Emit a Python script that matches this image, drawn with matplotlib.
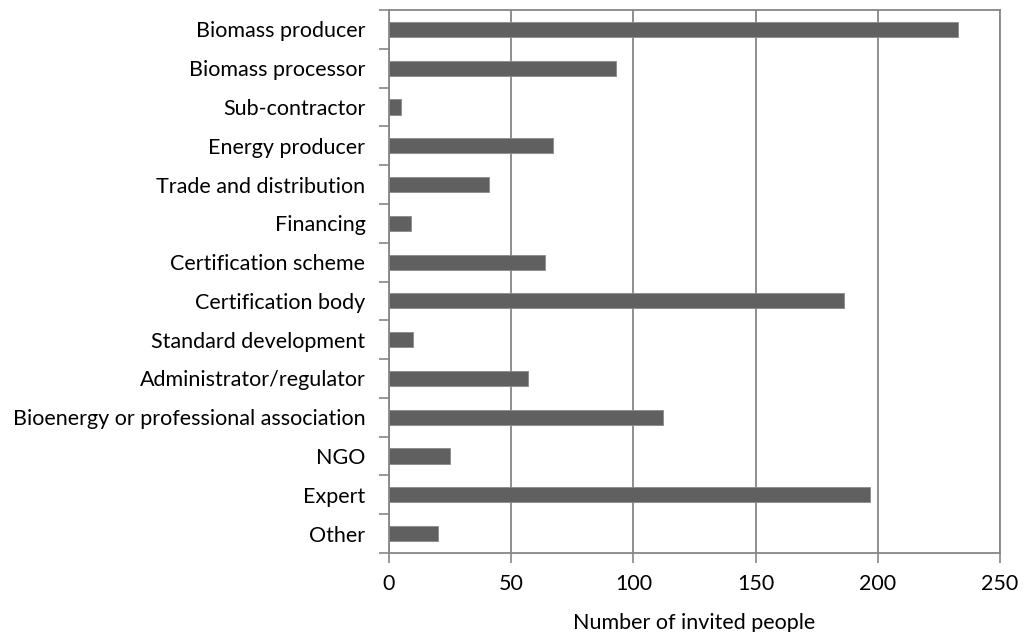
import numpy as np
import matplotlib.pyplot as plt

categories = ['Biomass producer', 'Biomass processor', 'Sub-contractor', 'Energy producer',
              'Trade and distribution', 'Financing', 'Certification scheme', 'Certification body',
              'Standard development', 'Administrator/regulator',
              'Bioenergy or professional association', 'NGO', 'Expert', 'Other']
invited = [233, 93, 5, 67, 41, 9, 64, 186, 10, 57, 112, 25, 197, 20]
xticks = [0, 50, 100, 150, 200, 250]

plt.rcParams['font.family'] = ['Lato', 'DejaVu Sans']
grid_col = '#868686'

fig = plt.figure(figsize=(10.25, 6.32), dpi=100)
ax = fig.add_axes([389/1025, 1-553/632, (1000-389)/1025, (553-10)/632])

y = np.arange(len(categories))
ax.barh(y, invited, height=0.39, color='#606060', edgecolor='#8a8a8a', linewidth=0.6, zorder=3)

ax.set_xlim(0, 250)
ax.set_ylim(len(categories)-0.5, -0.5)
ax.set_xticks(xticks)
ax.set_xticklabels([str(v) for v in xticks], fontsize=15.5)
ax.set_yticks(y)
ax.set_yticklabels(categories, fontsize=15.5)
ax.tick_params(axis='y', length=0, pad=17)
ax.set_yticks(np.arange(-0.5, len(categories), 1), minor=True)
ax.tick_params(axis='y', which='minor', length=7, color=grid_col, width=1.2)
ax.tick_params(axis='x', length=7, color=grid_col, width=1.2, pad=8)
ax.xaxis.grid(True, color=grid_col, linewidth=1.3, zorder=0)
for s in ax.spines.values():
    s.set_color(grid_col)
    s.set_linewidth(1.3)
ax.set_xlabel('Number of invited people', fontsize=15.5, labelpad=14)

fig.savefig('out.png', dpi=100)
